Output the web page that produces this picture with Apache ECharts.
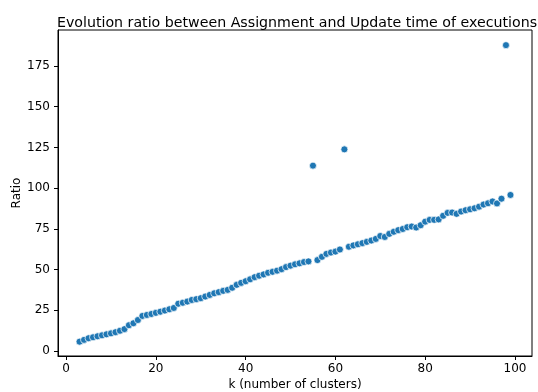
<!DOCTYPE html>
<html>
<head>
<meta charset="utf-8">
<script src="https://cdn.jsdelivr.net/npm/echarts@6/dist/echarts.min.js"></script>
<style>
  html, body { margin: 0; padding: 0; background: #fff; }
  #chart { width: 538px; height: 392px; }
</style>
</head>
<body>
<div id="chart"></div>
<script>
// Number of clusters k
const clusters = [
  3, 4, 5, 6, 7, 8, 9, 10, 11, 12, 13, 14, 15, 16, 17, 18, 19, 20,
  21, 22, 23, 24, 25, 26, 27, 28, 29, 30, 31, 32, 33, 34, 35, 36, 37, 38, 39, 40,
  41, 42, 43, 44, 45, 46, 47, 48, 49, 50, 51, 52, 53, 54, 55, 56, 57, 58, 59, 60,
  61, 62, 63, 64, 65, 66, 67, 68, 69, 70, 71, 72, 73, 74, 75, 76, 77, 78, 79, 80,
  81, 82, 83, 84, 85, 86, 87, 88, 89, 90, 91, 92, 93, 94, 95, 96, 97, 98, 99
];

// Assignment / Update time ratio for each k
const ratios = [
  5.7, 6.8, 7.8, 8.4, 9.0, 9.6, 10.2, 10.8, 11.5, 12.4, 13.4, 15.8, 17.0, 19.0, 21.5, 22.1, 22.7, 23.4,
  24.1, 24.8, 25.6, 26.4, 29.0, 29.6, 30.3, 31.3, 31.8, 32.4, 33.4, 34.4, 35.4, 36.1, 36.9, 37.5, 38.8, 40.6, 41.8, 42.8,
  44.0, 45.3, 46.2, 47.0, 48.0, 48.6, 49.3, 50.2, 51.5, 52.4, 53.2, 53.8, 54.6, 55.0, 113.8, 55.8, 57.8, 59.6, 60.4, 61.0,
  62.3, 123.8, 64.0, 64.8, 65.5, 66.2, 67.0, 67.8, 68.8, 70.6, 70.0, 71.9, 73.2, 74.2, 74.9, 76.0, 76.4, 75.8, 77.2, 79.4,
  80.5, 80.5, 80.8, 83.0, 84.8, 85.0, 84.2, 85.6, 86.4, 87.0, 87.6, 88.6, 89.9, 90.7, 91.8, 90.6, 93.5, 187.8, 95.8
];

const xTicks = [0, 20, 40, 60, 80, 100];
const yTicks = [0, 25, 50, 75, 100, 125, 150, 175];

const points = clusters.map((k, i) => [k, ratios[i]]);

const font = 'DejaVu Sans';
const chart = echarts.init(document.getElementById('chart'), null, { renderer: 'canvas' });

chart.setOption({
  animation: false,
  backgroundColor: '#ffffff',
  title: {
    text: 'Evolution ratio between Assignment and Update time of executions',
    left: 292,
    top: 11,
    textAlign: 'center',
    textStyle: { fontFamily: font, fontSize: 14.2, fontWeight: 'normal', color: '#000' }
  },
  grid: {
    left: 58, top: 30, width: 474, height: 326,
    outerBoundsMode: 'none',
    containLabel: false,
    show: true, borderColor: '#000', borderWidth: 1, backgroundColor: 'transparent'
  },
  xAxis: {
    type: 'value',
    min: -1.8, max: 103.8,
    name: 'k (number of clusters)',
    nameLocation: 'middle',
    nameGap: 23,
    nameMoveOverlap: false,
    nameTextStyle: { fontFamily: font, fontSize: 12, color: '#000' },
    splitLine: { show: false },
    axisLine: { show: true, onZero: false, lineStyle: { color: '#000', width: 1 } },
    axisTick: { show: true, length: 4, customValues: xTicks, lineStyle: { color: '#000' } },
    axisLabel: { customValues: xTicks, margin: 7, fontFamily: font, fontSize: 12, color: '#000' }
  },
  yAxis: {
    type: 'value',
    min: -3.1, max: 197.1,
    name: 'Ratio',
    nameLocation: 'middle',
    nameGap: 35,
    nameRotate: 90,
    nameMoveOverlap: false,
    nameTextStyle: { fontFamily: font, fontSize: 12, color: '#000' },
    splitLine: { show: false },
    axisLine: { show: true, onZero: false, lineStyle: { color: '#000', width: 1 } },
    axisTick: { show: true, length: 4, customValues: yTicks, lineStyle: { color: '#000' } },
    axisLabel: { customValues: yTicks, margin: 8, fontFamily: font, fontSize: 12, color: '#000' }
  },
  series: [{
    type: 'scatter',
    data: points,
    symbol: 'circle',
    symbolSize: 7,
    itemStyle: { color: '#1f77b4', borderColor: '#ffffff', borderWidth: 0.7, opacity: 1 }
  }]
});
</script>
</body>
</html>
